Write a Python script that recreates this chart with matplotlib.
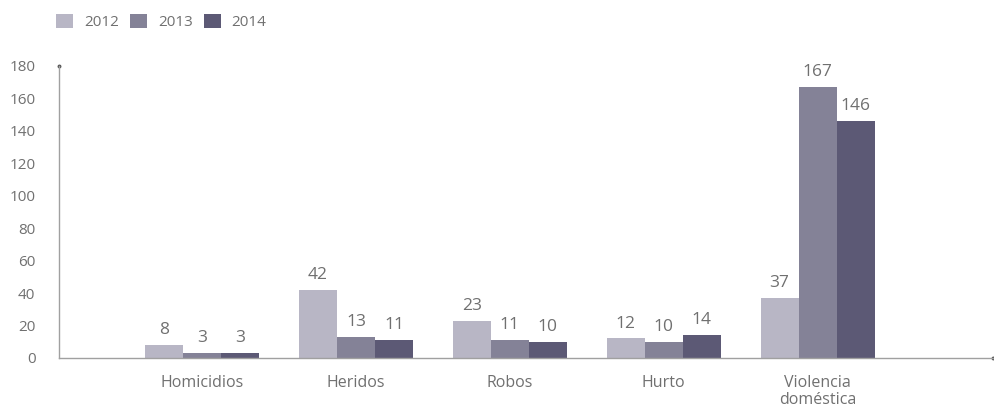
import matplotlib
matplotlib.use("Agg")
import matplotlib.pyplot as plt
import numpy as np

# Incidents by category and year
CATEGORIES = ["Homicidios", "Heridos", "Robos", "Hurto", "Violencia\ndoméstica"]
YEARS = ["2012", "2013", "2014"]
V2012 = [8, 42, 23, 12, 37]
V2013 = [3, 13, 11, 10, 167]
V2014 = [3, 11, 10, 14, 146]
Y_TICKS = [0, 20, 40, 60, 80, 100, 120, 140, 160, 180]

COLORS = ["#b8b6c5", "#848297", "#5c5975"]
TEXT = "#707070"
AXIS = "#a0a0a0"

plt.rcParams["font.family"] = ["Open Sans", "DejaVu Sans"]

fig = plt.figure(figsize=(9.94, 4.11), dpi=100)
ax = fig.add_axes([0.0594, 0.129, 0.9396, 0.711])

x = np.arange(len(CATEGORIES))
width = 0.247
series = [V2012, V2013, V2014]
for i, (vals, year, col) in enumerate(zip(series, YEARS, COLORS)):
    bars = ax.bar(x + (i - 1) * width, vals, width, color=col, label=year,
                  linewidth=0, zorder=2)
    for b, v in zip(bars, vals):
        ax.annotate(str(v), (b.get_x() + b.get_width() / 2, v),
                    xytext=(0, 5), textcoords="offset points",
                    ha="center", va="bottom", fontsize=12.5, color=TEXT)

ax.set_xlim(-0.93, 5.14)
ax.set_ylim(0, 180)
ax.set_yticks(Y_TICKS)
ax.set_xticks(x)
ax.set_xticklabels(CATEGORIES)
ax.tick_params(axis="y", length=0, pad=17, labelsize=11, labelcolor=TEXT)
ax.tick_params(axis="x", length=0, pad=12, labelsize=11.5, labelcolor=TEXT)
for lbl in ax.get_xticklabels():
    lbl.set_linespacing(1.15)

for s in ["top", "right"]:
    ax.spines[s].set_visible(False)
for s in ["left", "bottom"]:
    ax.spines[s].set_color(AXIS)
    ax.spines[s].set_linewidth(1.0)

# small end dots on the axes
ax.plot([0], [1], marker="o", ms=1.8, color="#555555", transform=ax.transAxes,
        clip_on=False)
ax.plot([1], [0], marker="o", ms=1.8, color="#555555", transform=ax.transAxes,
        clip_on=False)

fig.legend(loc="upper left", bbox_to_anchor=(0.043, 1.0), ncol=3,
           frameon=False, fontsize=11, labelcolor=TEXT, handlelength=1.1,
           handleheight=1.1, handletextpad=0.7, columnspacing=0.75)

fig.savefig("out.png", dpi=100)
